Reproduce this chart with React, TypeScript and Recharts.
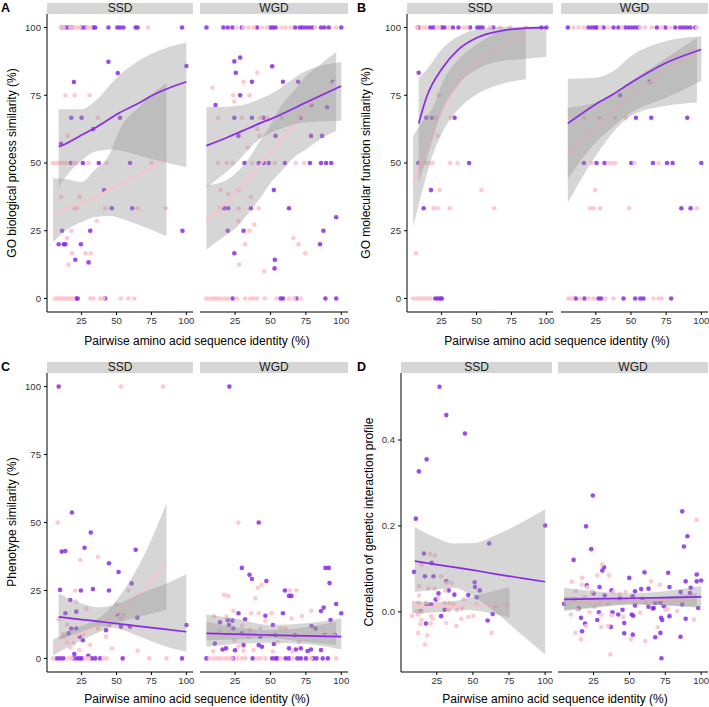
import React from 'react';
import { ComposedChart, XAxis, YAxis, Scatter, Area, Line } from 'recharts';

const FONT = '"Liberation Sans", Arial, Helvetica, sans-serif';
const PURPLE = '#8a2be2';
const PINK = '#ffc0cb';
const BAND = '#999999';

const X_DOMAIN: [number, number] = [0.25, 104.75];
const X_TICKS = [25, 50, 75, 100];
const PCT_TICKS = [0, 25, 50, 75, 100];
const PCT_DOMAIN: [number, number] = [-5, 105];
const COR_TICKS = [0, 0.2, 0.4];
const COR_DOMAIN: [number, number] = [-0.14, 0.556];

// helper: many points sitting on the same y value (e.g. 0 % or 100 %)
const atY = (y: number, xs: number[]) => xs.map((x) => [x, y]);

// ---------- A: GO biological process ----------
const aSsdPurple = [
  ...atY(100, [11, 13.4, 15.7, 18.1, 25.2, 27.6, 33.5, 34.7, 44.2, 50.6, 52.5, 54.9, 63.7, 65.1, 96.9]),
  [44.2, 87.4], [50.9, 83.2], [100, 85.8], [19.5, 79.9], [17.6, 66.7], [25, 66.7], [52.5, 66.7],
  [33.3, 62.5], [10.3, 57.1], [17.4, 50], [25.9, 50], [37.3, 50], [59.7, 50], [41.1, 40],
  [46.6, 33.3], [61.3, 33.3], [11, 25], [31.2, 25], [97.2, 25], [8.6, 20], [12.2, 20], [13.4, 20],
  [24.5, 20], [20.5, 14.3], [30, 13.3], [21.2, 0], [22.2, 0], [41.9, 0],
];
const aSsdPink = [
  ...atY(100, [10.3, 12.2, 16.9, 19.3, 21.7, 23.6, 29, 31.2, 72.7]),
  [13.4, 75], [20, 75], [30.7, 75], [36.6, 66.7], [15, 60],
  ...atY(50, [4.6, 6.5, 8.6, 10.3, 12.2, 14.1, 19.3, 21.2, 30, 43, 75]),
  [10.3, 37.5], [23.6, 37.5], [20, 33.3], [21.7, 33.3], [41.9, 33.3], [65.4, 33.3], [85.3, 33.3],
  [35.9, 28.6], [17.6, 25], [14.6, 22.2], [18.1, 16.7], [27.8, 16.7], [31.6, 16.7], [15.7, 12.5],
  ...atY(0, [6, 7.9, 9.8, 11.7, 13.6, 15.5, 17.4, 18.8, 31.2, 33.5, 38.3, 40.7, 53.2, 58.5, 62.7]),
];
// [x, fit, lower, upper]
const aSsdPurpleFit = [
  [8.6, 56, 41, 69.8], [13.4, 57, 44.7, 69.8], [25, 60.3, 50.9, 69.8], [33.5, 62.6, 54, 72.3],
  [46.6, 66.8, 55, 79.5], [50.2, 68, 54.8, 81.5], [66.8, 72.3, 52.7, 88], [75, 74.8, 51.5, 90.3],
  [85.8, 77.3, 50.2, 92.5], [100, 80, 48.4, 94.4],
];
const aSsdPinkFit = [
  [4.6, 31.2, 20.8, 44.4], [13.4, 33.2, 25, 44.1], [25, 35, 28.2, 43], [33.5, 37.2, 30, 47],
  [46.6, 40.7, 30.4, 55], [50.2, 41.7, 30, 60], [66.8, 46, 27, 71], [85.8, 51.5, 23, 79.6],
];

const aWgdPurple = [
  ...atY(100, [4.8, 16.7, 19.8, 23.1, 29.8, 40.5, 50, 51.7, 53.6, 67.4, 70.7, 72.6, 75, 77.4, 79.8, 85.7, 88.1, 91.2, 100]),
  [24.5, 87.5], [28.6, 88.9], [25.5, 83.3], [51.2, 85.7], [36.9, 80], [58.8, 80], [69.5, 80], [94, 80],
  [28.6, 75], [11.2, 71.4], [24.5, 66.7], [36.9, 66.7], [45.2, 66.7], [71, 66.7], [78.6, 71.4], [90, 70.6],
  [27.4, 60], [53.6, 60], [78.6, 60], [86.4, 60],
  ...atY(50, [31.7, 41.7, 45.2, 48.8, 60.2, 77.9, 85.7, 89.3, 92.9]),
  [52.4, 40], [17.4, 33.3], [20.2, 33.3], [36.2, 33.3], [63.1, 33.3], [96.4, 30], [19.8, 25], [31, 25],
  [87.4, 25], [85, 20], [24.5, 16.7], [53.1, 14.3], [52.9, 11.1],
  ...atY(0, [23.3, 57.1, 58.8, 68.3, 88.8, 96.4]),
];
const aWgdPink = [
  ...atY(100, [26, 31, 34.5, 38.1, 44, 47.6, 57.9, 60.7, 64.3, 81.7, 96.4]),
  [31, 80], [40.7, 83.3], [9, 77.8], [23.6, 75], [35.2, 75], [24.5, 72.7],
  ...atY(66.7, [13.1, 29.8, 42.9, 47.6, 57.9]),
  [40.7, 62.5], [42.1, 60], [34, 55.6],
  ...atY(50, [13.1, 19, 23.3, 36.9, 53.1, 67.9, 73.8]),
  [14.8, 40], [20.2, 38.5], [27.4, 40], [36.2, 37.5], [14.3, 33.3], [27.4, 33.3], [41.7, 33.3],
  [27.4, 28.6], [38.6, 27.3], [35.2, 25], [66.2, 22.2], [69.8, 20], [32.1, 20], [74.5, 16.7],
  [27.9, 12.5], [45.7, 10],
  ...atY(0, [4.8, 7.1, 9.5, 11.2, 13.1, 15.5, 17.9, 20.2, 26.2, 32.1, 35.7, 38.1, 40.5, 46, 54.3, 63.1, 66.7, 71.4]),
];
const aWgdPurpleFit = [
  [4.8, 56.4, 41, 70.7], [20.2, 59.6, 47.2, 70.8], [25, 60.7, 49.5, 71], [34.5, 62.8, 55.1, 72],
  [44, 65, 59.4, 74], [50, 66.2, 61, 75.4], [75, 72.3, 65, 84], [100, 78.4, 65.6, 87.3],
];
const aWgdPinkFit = [
  [4.8, 28.6, 18.1, 41.7], [20.2, 36, 24, 44.1], [25, 38.6, 25.7, 46], [34.5, 44.5, 31.5, 51.5],
  [44, 50, 38, 59.4], [50, 53.9, 42.6, 64], [56, 57.5, 46, 69.9], [67.9, 65, 52.7, 77.5],
  [75, 69.9, 55, 82.1], [81.7, 73.5, 57.6, 85], [96.4, 80.3, 61.9, 91],
];

// ---------- B: GO molecular function ----------
const bSsdPurple = [
  ...atY(100, [8.6, 16.9, 19.3, 25.2, 27.1, 33.1, 37.1, 45.4, 50.6, 52.5, 54.4, 62, 96.4, 100]),
  [8.6, 83.3], [14.1, 66.7], [18.1, 66.7], [34.3, 66.7], [8.4, 50], [44.7, 50], [17.4, 40], [12.2, 33.3],
  ...atY(0, [20.5, 22.2, 24, 25.2]),
];
const bSsdPink = [
  ...atY(100, [7.4, 10.9, 13.4, 21.7, 23, 30, 40.7, 43, 59.7, 66.8, 73.9, 85.3]),
  [22.9, 75], [20.5, 66.7], [31.6, 66.7], [22.2, 60],
  ...atY(50, [13.4, 15.7, 18.6, 31.2, 36.4]),
  [23.6, 40], [53.5, 40], [19.3, 33.3], [22.2, 33.3], [30.7, 33.3], [62.7, 33.3], [6.7, 16.7],
  ...atY(0, [4.6, 7.4, 9.8, 12.2, 14.6, 17]),
];
const bSsdPurpleFit = [
  [8.6, 64.6, 42.9, 81.5], [14.6, 74.8, 52, 84.6], [25, 84.6, 68.6, 91.9], [37.1, 91.9, 79, 96.8],
  [50.2, 96.2, 84.6, 99.3], [66.8, 98.7, 87.6, 100.2], [85.8, 99.8, 88.5, 100.4], [100, 100, 89.2, 100.5],
];
const bSsdPinkFit = [
  [4.6, 42.3, 26.3, 60], [12.2, 53.9, 41.7, 66], [19.3, 62.5, 53.9, 71], [25, 68.6, 60.7, 79],
  [37.1, 79.7, 69.9, 88.2], [50.2, 87, 75.4, 93.7], [66.8, 93.1, 79, 98.5], [85.3, 97.4, 80.9, 100],
];

const bWgdPurple = [
  ...atY(100, [5.1, 19.8, 22.2, 24.4, 25.7, 30.5, 37.6, 41.1, 45.9, 48.3, 50.7, 53, 55.4, 68.4, 74.4, 81.5, 85, 87.4, 89.8, 92.2, 95.7]),
  [42.3, 75], [63.2, 80], [53.5, 66.7], [64.4, 66.7], [90, 66.7],
  ...atY(50, [16.5, 25.5, 31.2, 50.2, 65.6, 75.6, 79.6, 100]),
  [85.8, 33.3], [92.4, 33.3],
  ...atY(0, [10.8, 16.9, 26.9, 28.8, 44.7, 53, 56.6, 58.9, 78.6]),
];
const bWgdPink = [
  ...atY(100, [9.1, 12.6, 16.2, 28.1, 34, 43.5, 56.6, 60.1, 64.9, 72, 77.9, 96.9]),
  ...atY(66.7, [16.9, 27.6, 38.8, 46.4]),
  ...atY(50, [22.2, 34, 36.4, 38.8, 52.5, 69.6]),
  [24.5, 40],
  ...atY(33.3, [21, 23.4, 28.1, 48.7, 96.9]),
  ...atY(0, [5.5, 7.8, 13.9, 19.8, 23.4, 31.7, 37.6, 66, 69.6, 72]),
];
const bWgdPurpleFit = [
  [5.1, 64.6, 44.1, 81.1], [25, 71.7, 57.6, 81.5], [37.6, 75.5, 63.5, 84], [50.2, 79.7, 68.6, 89.5],
  [75.1, 87, 74.1, 95], [100, 91.9, 80.3, 96.8],
];
const bWgdPinkFit = [
  [5.1, 53.3, 35.3, 70.5], [25, 63.1, 52.7, 72.3], [50.2, 74.8, 67.4, 80.3], [75.1, 84, 71.1, 88.8],
  [96.9, 90.7, 72.3, 96.2],
];

// ---------- C: phenotype ----------
const cSsdPurple = [
  [8.6, 100], [18.1, 53.7], [31.6, 46.3], [10.8, 39.3], [13.4, 39.5], [27.1, 40.7], [44.6, 35],
  [63.7, 40], [51.5, 31.8], [9.6, 25.2], [24.5, 25], [33.1, 25.5], [44.6, 25], [60.8, 27.6],
  [16.9, 21.5], [13.4, 16.6], [21.2, 17.2], [64.9, 15], [50.5, 16.2], [17.6, 11], [21.2, 11],
  [25.9, 6.7], [42.5, 10.4], [53.2, 11.7], [59.7, 11.7], [100, 12.3], [19.8, 1.6], [29.8, 1],
  [23.6, 8], [15.7, 9.2],
  ...atY(0, [7.4, 9.6, 12, 19.3, 21.7, 23.6, 25.2, 32.4, 34.8, 38.3, 54.4, 96.9]),
];
const cSsdPink = [
  [53.2, 100], [83.4, 100], [7.9, 50], [24, 36.2], [36.6, 37.4], [20.5, 25], [58.5, 25], [21.2, 20.9],
  [28.3, 18.2], [50, 20], [8.6, 14.4], [36.6, 11], [14.6, 12.5], [12.2, 8], [14.6, 6.1], [19.3, 5.5],
  [31.2, 4.9], [23.4, 3.1], [46.8, 3.7], [65.1, 2.8], [11.7, 9], [42.5, 8], [53.2, 14.7], [37, 13],
  [45, 12], [55, 16], [26, 9], [17, 4],
  ...atY(0, [4.6, 15.7, 18, 27.8, 30, 40.7, 43, 73.4, 85.8]),
];
const cSsdPurpleFit = [
  [8.6, 15.3, 6.7, 23.9], [25, 14.3, 9.8, 20.2], [37.1, 13.6, 11.7, 18.8], [50.2, 12.8, 11, 19.9],
  [66.8, 11.8, 8, 23.9], [85.8, 10.7, 4.3, 27.6], [100, 9.8, 2.5, 31],
];
const cSsdPinkFit = [
  [4.6, 4, 1.2, 7], [25, 9.2, 6.7, 11.9], [37.1, 12.5, 9.5, 14.7], [50.2, 16.6, 12.9, 21.5],
  [66.8, 23.9, 15.3, 35], [85.8, 35, 18, 57],
];

const cWgdPurple = [
  [21, 100], [41.7, 50], [29.8, 33.3], [35.2, 30.8], [36.9, 29.2], [47.1, 28.5], [60.2, 25], [63.1, 23],
  [64.8, 23], [88.8, 33.3], [91.2, 33.3], [91.7, 27.7], [96.4, 20], [100, 16.6], [87.6, 18.7],
  [85.7, 17.4], [27.4, 16.6], [32.1, 14.4], [46.4, 15.7], [58.8, 16.6], [14.3, 13.3], [19.8, 14.1],
  [23.1, 13.9], [92.4, 14.1], [51.7, 12.3], [79, 11.9], [81.9, 11], [20.7, 12.3], [23.8, 11],
  [29.8, 9.2], [42.9, 8], [53.6, 8.6], [67.4, 8.6], [88.3, 8.6], [95.5, 8.6], [10.7, 5.5], [16.2, 3.3],
  [18.6, 3.7], [25, 3], [31, 4.9], [41.7, 4.9], [44, 4.3], [52.4, 5.3], [63.1, 3.7], [67.9, 3.3],
  [71.4, 3.7], [76.2, 2.7], [78.6, 3.3], [85.7, 3.1],
  ...atY(0, [4.8, 23.5, 37.4, 51.2, 53.6, 54.8, 60.7, 63.1, 69, 71.4, 75, 80, 82.5, 86.9, 90.5]),
];
const cWgdPink = [
  [27.4, 50], [41, 26], [43.6, 27], [39.3, 22.1], [17.1, 23.4], [20.2, 23], [63.6, 25], [68.3, 25],
  [78.8, 17.5], [23.8, 17.5], [36.4, 16.6], [41.7, 16.6], [50.7, 16.6], [10.2, 15.6], [19, 15.3],
  [65, 14.7], [72.1, 15.6], [46.4, 13.9], [57.1, 11], [60.7, 11], [35.7, 10.4], [42.9, 11], [9.5, 2.5],
  [27.4, 4.3], [31, 2.8], [38.1, 3.1], [65.5, 2.5], [51.7, 2.5], [34.5, 8], [24.5, 6.7], [14, 10],
  [30, 12], [70, 6], [55, 6],
  ...atY(0, [7.1, 10, 12.6, 15, 17.9, 20.2, 22.6, 26.5, 30, 32.4, 40.5, 43, 46.4, 57.1, 65.5, 78.6, 96.4]),
];
const cWgdPurpleFit = [
  [4.8, 9.2, 4.3, 16.2], [25, 8.9, 5.3, 14.7], [50, 8.6, 5.8, 12.3], [75, 8.3, 5.3, 12.9], [100, 8, 3.3, 14.7],
];
const cWgdPinkFit = [
  [4.8, 9.5, 6.7, 13.5], [25, 9, 7, 11.5], [50, 8.6, 7.4, 10.4], [75, 8.5, 6, 11.5], [96.4, 8.6, 4.9, 13.5],
];

// ---------- D: genetic interaction profile ----------
const dSsdPurple = [
  [26.9, 0.524], [31.6, 0.458], [44.5, 0.415], [18, 0.355], [12.6, 0.327], [10.5, 0.217], [100, 0.201],
  [61.3, 0.159], [16.1, 0.136], [21.5, 0.114], [9.3, 0.093], [16.8, 0.083], [22.7, 0.083], [31.6, 0.071],
  [51.2, 0.069], [51.5, 0.058], [54.8, 0.05], [33.2, 0.05], [26.2, 0.043], [37.2, 0.04], [46.8, 0.039],
  [52.7, 0.034], [24.3, 0.029], [18, 0.017], [21, 0.017], [30.4, 0.005], [14, 0.002], [63.7, -0.005],
  [28, -0.01], [60.2, -0.02], [17.5, -0.027],
];
const dSsdPink = [
  [20.3, 0.135], [23.8, 0.131], [14.5, 0.11], [28, 0.083], [12.8, 0.06], [19.1, 0.054], [32, 0.067],
  [35.5, 0.067], [23.4, 0.054], [12.8, 0.038], [30.9, 0.05], [26.2, 0.032], [43.7, 0.029], [12.4, 0.021],
  [17.7, 0.021], [30.4, 0.021], [36.7, 0.017], [42.6, 0.007], [52.4, 0.017], [65.5, 0.013], [73.7, 0.017],
  [11, 0.002], [14.5, 0], [33.2, 0.004], [39.1, 0.004], [7.9, -0.01], [11.9, -0.006], [21, -0.01],
  [22.2, -0.016], [14.5, -0.019], [13.6, -0.029], [20.8, -0.027], [12.1, -0.049], [18.4, -0.055],
  [16.8, -0.076], [31.6, -0.026], [38.6, -0.033], [41.9, -0.016], [46.8, -0.012], [50.3, -0.009],
  [63, -0.049], [33.7, 0.021],
];
const dSsdPurpleFit = [
  [9.8, 0.118, 0.046, 0.197], [25, 0.11, 0.052, 0.172], [36.7, 0.104, 0.056, 0.159],
  [50.3, 0.097, 0.036, 0.16], [66, 0.088, -0.002, 0.179], [84.8, 0.078, -0.056, 0.21],
  [100, 0.07, -0.099, 0.239],
];
const dSsdPinkFit = [
  [7.9, 0.011, -0.004, 0.026], [25, 0.012, -0.001, 0.023], [42.6, 0.014, 0.005, 0.029],
  [54.3, 0.016, 0.002, 0.04], [75.4, 0.018, -0.014, 0.058],
];

const dWgdPurple = [
  [24.5, 0.271], [86.8, 0.234], [19.8, 0.199], [90.4, 0.176], [23.4, 0.146], [88, 0.152], [11.1, 0.121],
  [32.3, 0.104], [31.1, 0.096], [49.9, 0.079], [60.5, 0.092], [77, 0.091], [96.9, 0.087], [100, 0.073],
  [96.9, 0.071], [89.2, 0.071], [92.7, 0.056], [20.3, 0.062], [29.2, 0.058], [37.5, 0.05], [53.9, 0.048],
  [58.2, 0.053], [63.3, 0.054], [77.9, 0.058], [85.7, 0.046], [92.2, 0.044], [25, 0.043], [32.8, 0.038],
  [43.3, 0.031], [52.3, 0.036], [59.1, 0.03], [68, 0.021], [71.6, 0.022], [86.8, 0.017], [97.9, 0.009],
  [45.2, 0.005], [53.9, 0.015], [63.3, 0.012], [66.4, 0.008], [14.7, 0.008], [4.5, 0.019], [28.8, -0.001],
  [38.2, -0.001], [42.2, -0.006], [51.6, -0.006], [52.7, -0.009], [66.9, 0.009], [74, 0.013],
  [77.9, -0.01], [16.3, -0.014], [72.1, -0.014], [27.6, -0.019], [19.1, -0.027], [46.4, -0.026],
  [72.8, -0.019], [89.2, -0.016], [17, -0.045], [37, -0.035], [46.4, -0.05], [52.3, -0.053],
  [68, -0.059], [71.6, -0.049], [85.6, -0.058], [72.3, -0.108],
];
const dWgdPink = [
  [30.9, 0.11], [27.6, 0.085], [35.8, 0.085], [17, 0.079], [9.9, 0.07], [20.8, 0.057], [16.8, 0.063],
  [39, 0.046], [47.2, 0.046], [65.2, 0.071], [71.1, 0.063], [96.9, 0.214], [12.8, 0.048], [11.6, 0.029],
  [18.7, 0.035], [24.1, 0.048], [29.2, 0.022], [43.3, 0.042], [35.1, 0.021], [46.9, 0.029], [13.9, 0.005],
  [22.2, -0.001], [30.4, -0.006], [37.5, -0.008], [45.7, -0.012], [57.4, -0.002], [61.7, 0.021],
  [76.7, 0.007], [83.3, 0.002], [9.2, -0.006], [19.8, -0.033], [12.3, -0.049], [16.3, -0.064],
  [30.4, -0.035], [35.1, -0.033], [51.1, -0.064], [61, -0.068], [69.7, -0.036], [36.8, -0.099],
  [95, -0.018], [75.1, 0.005], [25.7, 0.012],
];
const dWgdPurpleFit = [
  [4.5, 0.029, 0.002, 0.056], [25, 0.0303, 0.009, 0.048], [50, 0.0317, 0.017, 0.043],
  [75, 0.0333, 0.015, 0.048], [100, 0.035, 0.012, 0.06],
];
const dWgdPinkFit = [
  [4.5, 0.02, 0.005, 0.036], [25, 0.023, 0.011, 0.034], [50, 0.025, 0.017, 0.032],
  [75, 0.027, 0.015, 0.036], [96.9, 0.028, 0.01, 0.044],
];

const toPts = (arr: number[][]) => arr.map(([x, y]) => ({ x, y }));
const toFit = (arr: number[][]) => arr.map(([x, f, lo, hi]) => ({ x, fit: f, band: [lo, hi] }));

const dot = (color: string) => (props: any) =>
  props.cx == null ? <g /> : (
    <circle cx={props.cx} cy={props.cy} r={2.3} fill={color} fillOpacity={0.85} />
  );

interface FacetProps {
  left: number;
  top: number;
  w: number;
  h: number;
  showY: boolean;
  title: string;
  yDomain: [number, number];
  yTicks: number[];
  yFmt?: (v: number) => string;
  purple: number[][];
  pink: number[][];
  purpleFit: number[][];
  pinkFit: number[][];
}

const tickStyle = { fontSize: 9.6, fill: '#333', fontFamily: FONT };

function Facet(p: FacetProps) {
  const yW = p.showY ? 30 : 0;
  return (
    <>
      <div
        style={{
          position: 'absolute', left: p.left, top: p.top - 11, width: p.w, height: 11,
          background: '#d6d6d6', fontFamily: FONT, fontSize: 12, lineHeight: '11px',
          textAlign: 'center', color: '#1a1a1a',
        }}
      >
        {p.title}
      </div>
      <div style={{ position: 'absolute', left: p.left - yW, top: p.top }}>
        <ComposedChart width={p.w + yW} height={p.h + 16} margin={{ top: 0, right: 0, bottom: 0, left: 0 }}>
          <XAxis type="number" dataKey="x" domain={X_DOMAIN} ticks={X_TICKS} allowDataOverflow
            height={16} tickSize={3} tickMargin={2} tick={tickStyle} stroke="#000" interval={0} />
          <YAxis type="number" domain={p.yDomain} ticks={p.yTicks} allowDataOverflow hide={!p.showY}
            width={yW} tickSize={3} tickMargin={3} tick={tickStyle} stroke="#000"
            tickFormatter={p.yFmt} interval={0} />
          <Scatter data={toPts(p.purple)} dataKey="y" isAnimationActive={false} shape={dot(PURPLE)} zIndex={100} />
          <Scatter data={toPts(p.pink)} dataKey="y" isAnimationActive={false} shape={dot(PINK)} zIndex={110} />
          <Area data={toFit(p.pinkFit)} dataKey="band" type="monotone" stroke="none" fill={BAND}
            fillOpacity={0.4} isAnimationActive={false} zIndex={200} />
          <Line data={toFit(p.pinkFit)} dataKey="fit" type="monotone" stroke={PINK} strokeWidth={1.7}
            dot={false} isAnimationActive={false} zIndex={210} />
          <Area data={toFit(p.purpleFit)} dataKey="band" type="monotone" stroke="none" fill={BAND}
            fillOpacity={0.4} isAnimationActive={false} zIndex={220} />
          <Line data={toFit(p.purpleFit)} dataKey="fit" type="monotone" stroke={PURPLE} strokeWidth={1.7}
            dot={false} isAnimationActive={false} zIndex={230} />
        </ComposedChart>
      </div>
    </>
  );
}

function YTitle({ x, y, text }: { x: number; y: number; text: string }) {
  return (
    <div style={{
      position: 'absolute', left: x, top: y, transform: 'translate(-50%, -50%) rotate(-90deg)',
      whiteSpace: 'nowrap', fontFamily: FONT, fontSize: 12, color: '#000',
    }}>{text}</div>
  );
}

function XTitle({ x, y }: { x: number; y: number }) {
  return (
    <div style={{
      position: 'absolute', left: x, top: y, transform: 'translate(-50%, -50%)',
      whiteSpace: 'nowrap', fontFamily: FONT, fontSize: 12, color: '#000',
    }}>Pairwise amino acid sequence identity (%)</div>
  );
}

function Letter({ x, y, t }: { x: number; y: number; t: string }) {
  return (
    <div style={{ position: 'absolute', left: x, top: y, fontFamily: FONT, fontSize: 12.5, fontWeight: 'bold', lineHeight: '12px' }}>{t}</div>
  );
}

const corFmt = (v: number) => v.toFixed(1);

export default function App() {
  return (
    <div style={{ position: 'absolute', left: 0, top: 0, width: 709, height: 707, background: '#fff', overflow: 'hidden' }}>
      <style>{'.recharts-surface{overflow:visible}'}</style>
      <Letter x={1} y={2} t="A" />
      <Letter x={357} y={2} t="B" />
      <Letter x={1} y={361} t="C" />
      <Letter x={357} y={361} t="D" />

      <Facet left={47} top={14} w={146} h={298} showY title="SSD" yDomain={PCT_DOMAIN} yTicks={PCT_TICKS}
        purple={aSsdPurple} pink={aSsdPink} purpleFit={aSsdPurpleFit} pinkFit={aSsdPinkFit} />
      <Facet left={200} top={14} w={148} h={298} showY={false} title="WGD" yDomain={PCT_DOMAIN} yTicks={PCT_TICKS}
        purple={aWgdPurple} pink={aWgdPink} purpleFit={aWgdPurpleFit} pinkFit={aWgdPinkFit} />
      <YTitle x={12} y={163} text="GO biological process similarity (%)" />
      <XTitle x={197} y={341} />

      <Facet left={407} top={14} w={146} h={298} showY title="SSD" yDomain={PCT_DOMAIN} yTicks={PCT_TICKS}
        purple={bSsdPurple} pink={bSsdPink} purpleFit={bSsdPurpleFit} pinkFit={bSsdPinkFit} />
      <Facet left={561} top={14} w={147} h={298} showY={false} title="WGD" yDomain={PCT_DOMAIN} yTicks={PCT_TICKS}
        purple={bWgdPurple} pink={bWgdPink} purpleFit={bWgdPurpleFit} pinkFit={bWgdPinkFit} />
      <YTitle x={366} y={163} text="GO molecular function similarity (%)" />
      <XTitle x={557} y={341} />

      <Facet left={47} top={373} w={146} h={299} showY title="SSD" yDomain={PCT_DOMAIN} yTicks={PCT_TICKS}
        purple={cSsdPurple} pink={cSsdPink} purpleFit={cSsdPurpleFit} pinkFit={cSsdPinkFit} />
      <Facet left={200} top={373} w={148} h={299} showY={false} title="WGD" yDomain={PCT_DOMAIN} yTicks={PCT_TICKS}
        purple={cWgdPurple} pink={cWgdPink} purpleFit={cWgdPurpleFit} pinkFit={cWgdPinkFit} />
      <YTitle x={12} y={522} text="Phenotype similarity (%)" />
      <XTitle x={197} y={699} />

      <Facet left={401} top={373} w={151} h={299} showY title="SSD" yDomain={COR_DOMAIN} yTicks={COR_TICKS}
        yFmt={corFmt} purple={dSsdPurple} pink={dSsdPink} purpleFit={dSsdPurpleFit} pinkFit={dSsdPinkFit} />
      <Facet left={558} top={373} w={150} h={299} showY={false} title="WGD" yDomain={COR_DOMAIN} yTicks={COR_TICKS}
        purple={dWgdPurple} pink={dWgdPink} purpleFit={dWgdPurpleFit} pinkFit={dWgdPinkFit} />
      <YTitle x={369} y={522} text="Correlation of genetic interaction profile" />
      <XTitle x={555} y={699} />
    </div>
  );
}
